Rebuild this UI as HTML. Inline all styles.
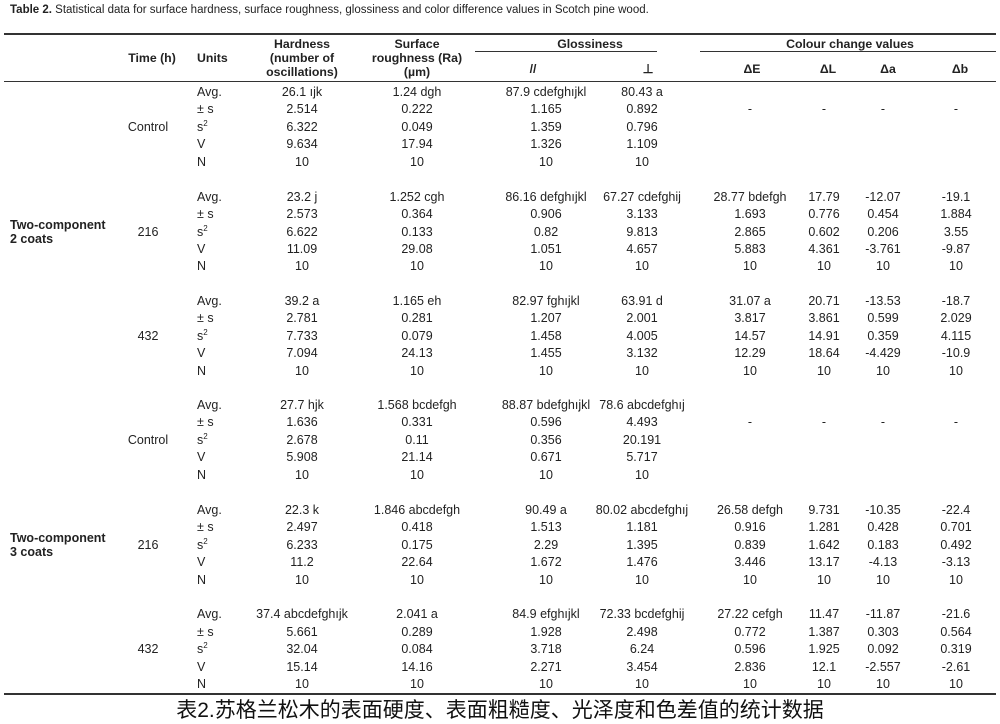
<!DOCTYPE html>
<html><head><meta charset="utf-8"><style>
body{margin:0;width:1000px;height:724px;background:#fff;position:relative;overflow:hidden;font-family:"Liberation Sans",Arial,sans-serif;color:#222;font-size:12.5px}
.t{position:absolute;left:10px;top:4px;font-size:11.5px}
.ln{position:absolute;background:#333}
.hd{position:absolute;font-weight:bold;text-align:center;line-height:14px;width:140px;font-size:12.3px}
.r{position:absolute;left:0;width:1000px;height:17px;line-height:17px}
.r span{position:absolute;top:0;width:130px;text-align:center;white-space:nowrap}
.r .u{left:197px;width:60px;text-align:left}
.h{left:237px}.s{left:352px}.g1{left:481px}.g2{left:577px}.e{left:685px}.l{left:759px}.a{left:818px}.b{left:891px}
.tm{position:absolute;width:80px;text-align:center;left:108px}
.gp{position:absolute;left:10px;font-weight:bold;line-height:14px}
sup{font-size:8px;line-height:0}
.cap{position:absolute;left:0;width:1000px;top:697px;text-align:center;font-size:21px;font-family:"Liberation Sans","Noto Sans CJK SC",sans-serif;color:#111;line-height:27px}
</style></head><body>
<div class="t"><b>Table 2.</b> Statistical data for surface hardness, surface roughness, glossiness and color difference values in Scotch pine wood.</div>
<div class="ln" style="left:4px;top:33px;width:992px;height:2px"></div>
<div class="ln" style="left:475px;top:51px;width:182px;height:1px"></div>
<div class="ln" style="left:700px;top:51px;width:296px;height:1px"></div>
<div class="ln" style="left:4px;top:81px;width:992px;height:1px"></div>
<div class="ln" style="left:4px;top:693px;width:992px;height:2px"></div>
<div class="hd" style="left:82px;top:51px">Time (h)</div>
<div class="hd" style="left:197px;top:51px;width:60px;text-align:left">Units</div>
<div class="hd" style="left:232px;top:37px">Hardness<br>(number of<br>oscillations)</div>
<div class="hd" style="left:347px;top:37px">Surface<br>roughness (Ra)<br>(µm)</div>
<div class="hd" style="left:520px;top:37px">Glossiness</div>
<div class="hd" style="left:750px;top:37px;width:200px">Colour change values</div>
<div class="hd" style="left:463px;top:62px">//</div>
<div class="hd" style="left:578px;top:62px">⊥</div>
<div class="hd" style="left:682px;top:62px">ΔE</div>
<div class="hd" style="left:758px;top:62px">ΔL</div>
<div class="hd" style="left:818px;top:62px">Δa</div>
<div class="hd" style="left:890px;top:62px">Δb</div>

<!-- G1 -->
<div class="r" style="top:84px"><span class="u">Avg.</span><span class="h">26.1 ıjk</span><span class="s">1.24 dgh</span><span class="g1">87.9 cdefghıjkl</span><span class="g2">80.43 a</span></div>
<div class="r" style="top:101px"><span class="u">± s</span><span class="h">2.514</span><span class="s">0.222</span><span class="g1">1.165</span><span class="g2">0.892</span><span class="e">-</span><span class="l">-</span><span class="a">-</span><span class="b">-</span></div>
<div class="r" style="top:119px"><span class="u">s<sup>2</sup></span><span class="h">6.322</span><span class="s">0.049</span><span class="g1">1.359</span><span class="g2">0.796</span></div>
<div class="r" style="top:136px"><span class="u">V</span><span class="h">9.634</span><span class="s">17.94</span><span class="g1">1.326</span><span class="g2">1.109</span></div>
<div class="r" style="top:154px"><span class="u">N</span><span class="h">10</span><span class="s">10</span><span class="g1">10</span><span class="g2">10</span></div>
<div class="tm" style="top:119px;line-height:17px">Control</div>

<!-- G2 -->
<div class="r" style="top:189px"><span class="u">Avg.</span><span class="h">23.2 j</span><span class="s">1.252 cgh</span><span class="g1">86.16 defghıjkl</span><span class="g2">67.27 cdefghij</span><span class="e">28.77 bdefgh</span><span class="l">17.79</span><span class="a">-12.07</span><span class="b">-19.1</span></div>
<div class="r" style="top:206px"><span class="u">± s</span><span class="h">2.573</span><span class="s">0.364</span><span class="g1">0.906</span><span class="g2">3.133</span><span class="e">1.693</span><span class="l">0.776</span><span class="a">0.454</span><span class="b">1.884</span></div>
<div class="r" style="top:224px"><span class="u">s<sup>2</sup></span><span class="h">6.622</span><span class="s">0.133</span><span class="g1">0.82</span><span class="g2">9.813</span><span class="e">2.865</span><span class="l">0.602</span><span class="a">0.206</span><span class="b">3.55</span></div>
<div class="r" style="top:241px"><span class="u">V</span><span class="h">11.09</span><span class="s">29.08</span><span class="g1">1.051</span><span class="g2">4.657</span><span class="e">5.883</span><span class="l">4.361</span><span class="a">-3.761</span><span class="b">-9.87</span></div>
<div class="r" style="top:258px"><span class="u">N</span><span class="h">10</span><span class="s">10</span><span class="g1">10</span><span class="g2">10</span><span class="e">10</span><span class="l">10</span><span class="a">10</span><span class="b">10</span></div>
<div class="tm" style="top:224px;line-height:17px">216</div>
<div class="gp" style="top:218px">Two-component<br>2 coats</div>

<!-- G3 -->
<div class="r" style="top:293px"><span class="u">Avg.</span><span class="h">39.2 a</span><span class="s">1.165 eh</span><span class="g1">82.97 fghıjkl</span><span class="g2">63.91 d</span><span class="e">31.07 a</span><span class="l">20.71</span><span class="a">-13.53</span><span class="b">-18.7</span></div>
<div class="r" style="top:310px"><span class="u">± s</span><span class="h">2.781</span><span class="s">0.281</span><span class="g1">1.207</span><span class="g2">2.001</span><span class="e">3.817</span><span class="l">3.861</span><span class="a">0.599</span><span class="b">2.029</span></div>
<div class="r" style="top:328px"><span class="u">s<sup>2</sup></span><span class="h">7.733</span><span class="s">0.079</span><span class="g1">1.458</span><span class="g2">4.005</span><span class="e">14.57</span><span class="l">14.91</span><span class="a">0.359</span><span class="b">4.115</span></div>
<div class="r" style="top:345px"><span class="u">V</span><span class="h">7.094</span><span class="s">24.13</span><span class="g1">1.455</span><span class="g2">3.132</span><span class="e">12.29</span><span class="l">18.64</span><span class="a">-4.429</span><span class="b">-10.9</span></div>
<div class="r" style="top:363px"><span class="u">N</span><span class="h">10</span><span class="s">10</span><span class="g1">10</span><span class="g2">10</span><span class="e">10</span><span class="l">10</span><span class="a">10</span><span class="b">10</span></div>
<div class="tm" style="top:328px;line-height:17px">432</div>

<!-- G4 -->
<div class="r" style="top:397px"><span class="u">Avg.</span><span class="h">27.7 hjk</span><span class="s">1.568 bcdefgh</span><span class="g1">88.87 bdefghıjkl</span><span class="g2">78.6 abcdefghıj</span></div>
<div class="r" style="top:414px"><span class="u">± s</span><span class="h">1.636</span><span class="s">0.331</span><span class="g1">0.596</span><span class="g2">4.493</span><span class="e">-</span><span class="l">-</span><span class="a">-</span><span class="b">-</span></div>
<div class="r" style="top:432px"><span class="u">s<sup>2</sup></span><span class="h">2.678</span><span class="s">0.11</span><span class="g1">0.356</span><span class="g2">20.191</span></div>
<div class="r" style="top:449px"><span class="u">V</span><span class="h">5.908</span><span class="s">21.14</span><span class="g1">0.671</span><span class="g2">5.717</span></div>
<div class="r" style="top:467px"><span class="u">N</span><span class="h">10</span><span class="s">10</span><span class="g1">10</span><span class="g2">10</span></div>
<div class="tm" style="top:432px;line-height:17px">Control</div>

<!-- G5 -->
<div class="r" style="top:502px"><span class="u">Avg.</span><span class="h">22.3 k</span><span class="s">1.846 abcdefgh</span><span class="g1">90.49 a</span><span class="g2">80.02 abcdefghıj</span><span class="e">26.58 defgh</span><span class="l">9.731</span><span class="a">-10.35</span><span class="b">-22.4</span></div>
<div class="r" style="top:519px"><span class="u">± s</span><span class="h">2.497</span><span class="s">0.418</span><span class="g1">1.513</span><span class="g2">1.181</span><span class="e">0.916</span><span class="l">1.281</span><span class="a">0.428</span><span class="b">0.701</span></div>
<div class="r" style="top:537px"><span class="u">s<sup>2</sup></span><span class="h">6.233</span><span class="s">0.175</span><span class="g1">2.29</span><span class="g2">1.395</span><span class="e">0.839</span><span class="l">1.642</span><span class="a">0.183</span><span class="b">0.492</span></div>
<div class="r" style="top:554px"><span class="u">V</span><span class="h">11.2</span><span class="s">22.64</span><span class="g1">1.672</span><span class="g2">1.476</span><span class="e">3.446</span><span class="l">13.17</span><span class="a">-4.13</span><span class="b">-3.13</span></div>
<div class="r" style="top:572px"><span class="u">N</span><span class="h">10</span><span class="s">10</span><span class="g1">10</span><span class="g2">10</span><span class="e">10</span><span class="l">10</span><span class="a">10</span><span class="b">10</span></div>
<div class="tm" style="top:537px;line-height:17px">216</div>
<div class="gp" style="top:531px">Two-component<br>3 coats</div>

<!-- G6 -->
<div class="r" style="top:606px"><span class="u">Avg.</span><span class="h">37.4 abcdefghıjk</span><span class="s">2.041 a</span><span class="g1">84.9 efghıjkl</span><span class="g2">72.33 bcdefghij</span><span class="e">27.22 cefgh</span><span class="l">11.47</span><span class="a">-11.87</span><span class="b">-21.6</span></div>
<div class="r" style="top:624px"><span class="u">± s</span><span class="h">5.661</span><span class="s">0.289</span><span class="g1">1.928</span><span class="g2">2.498</span><span class="e">0.772</span><span class="l">1.387</span><span class="a">0.303</span><span class="b">0.564</span></div>
<div class="r" style="top:641px"><span class="u">s<sup>2</sup></span><span class="h">32.04</span><span class="s">0.084</span><span class="g1">3.718</span><span class="g2">6.24</span><span class="e">0.596</span><span class="l">1.925</span><span class="a">0.092</span><span class="b">0.319</span></div>
<div class="r" style="top:659px"><span class="u">V</span><span class="h">15.14</span><span class="s">14.16</span><span class="g1">2.271</span><span class="g2">3.454</span><span class="e">2.836</span><span class="l">12.1</span><span class="a">-2.557</span><span class="b">-2.61</span></div>
<div class="r" style="top:676px"><span class="u">N</span><span class="h">10</span><span class="s">10</span><span class="g1">10</span><span class="g2">10</span><span class="e">10</span><span class="l">10</span><span class="a">10</span><span class="b">10</span></div>
<div class="tm" style="top:641px;line-height:17px">432</div>

<div class="cap">表2.苏格兰松木的表面硬度、表面粗糙度、光泽度和色差值的统计数据</div>
</body></html>
